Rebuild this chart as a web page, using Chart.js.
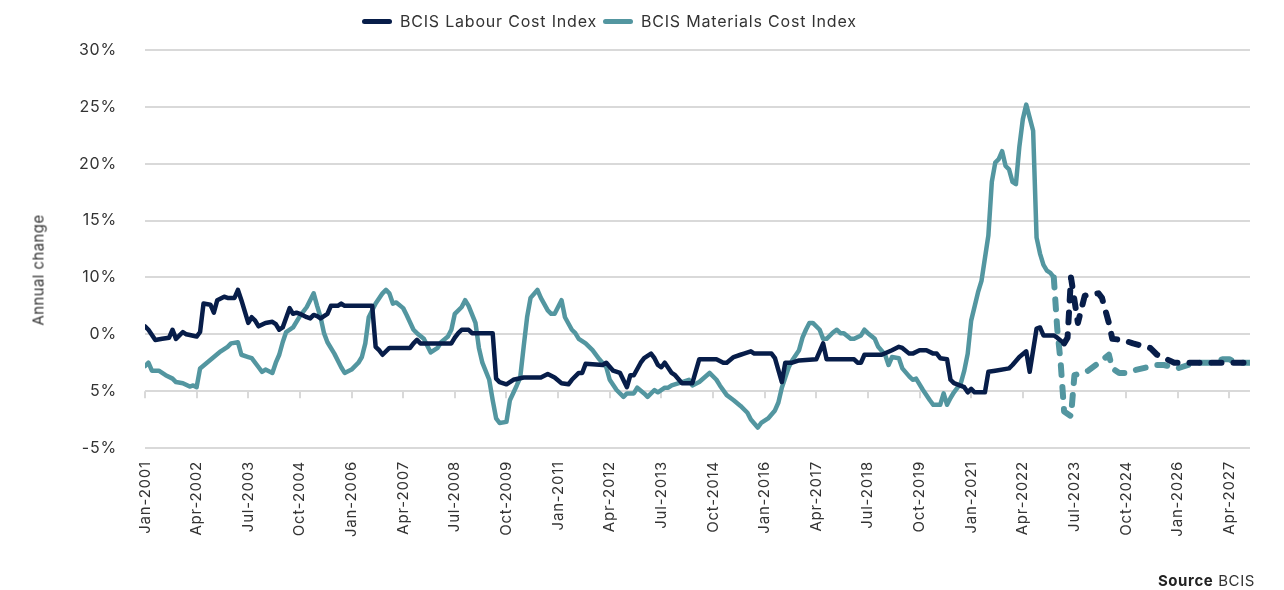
<!DOCTYPE html>
<html>
<head>
<meta charset="utf-8">
<script src="https://cdn.jsdelivr.net/npm/chart.js@4.4.1/dist/chart.umd.min.js"></script>
<style>
  html, body { margin: 0; padding: 0; background: #fff; }
  #wrap { position: relative; width: 1284px; height: 590px; font-family: Inter, "Open Sans", sans-serif; color: #333; }
  #chart { position: absolute; left: 0; top: 0; }
  .legend { position: absolute; left: 0; top: 0; width: 1284px; height: 40px; font-size: 16px; letter-spacing: 0.8px; white-space: nowrap; }
  .legend .item { position: absolute; top: 11px; display: flex; align-items: center; }
  .legend .mark { display: inline-block; width: 30px; height: 5px; border-radius: 3px; margin-right: 8px; }
  .ytitle { position: absolute; left: 38px; top: 270px; transform: translate(-50%, -50%) rotate(-90deg); font-size: 15px; letter-spacing: 0.4px; white-space: nowrap; }
  .source { position: absolute; right: 29px; top: 571px; font-size: 15px; letter-spacing: 0.6px; }
  .source b { font-weight: 700; color: #222; }
</style>
</head>
<body>
<div id="wrap">
  <canvas id="chart" width="1284" height="590"></canvas>
  <div class="legend" id="legend"></div>
  <div class="ytitle">Annual change</div>
  <div class="source"><b>Source</b> BCIS</div>
</div>
<script>
// x values are months counted from Jan-2001 (0 = Jan-2001)
const startYear = 2001;
const lastMonth = 321;
const labelStep = 15;
const monthNames = ['Jan','Feb','Mar','Apr','May','Jun','Jul','Aug','Sep','Oct','Nov','Dec'];

// y axis: tick values and the text printed beside each one
const yTickValues = [-5, 0, 5, 10, 15, 20, 25, 30];
const yTickLabels = ['-5%', '5%', '0%', '10%', '15%', '20%', '25%', '30%'];

const seriesNames = ['BCIS Labour Cost Index', 'BCIS Materials Cost Index'];
const seriesColors = ['#071d49', '#5396a0'];
const legendLeft = [362, 603];

// forecast (dashed) begins at these months
const labourForecastFrom = 267;
const materialsForecastFrom = 264;

const labour = [
  [0,5.7],[1,5.4],[3,4.5],[5,4.6],[7,4.7],[8,5.4],[9,4.6],[11,5.2],[12,5.0],[15,4.8],
  [16,5.2],[17,7.7],[19,7.6],[20,6.9],[21,8.0],[23,8.3],[24,8.2],[26,8.2],[27,8.9],[28,8.0],
  [30,6.0],[31,6.5],[32,6.2],[33,5.7],[35,6.0],[37,6.1],[38,5.9],[39,5.4],[40,5.6],[42,7.3],
  [43,6.8],[44,6.9],[45,6.8],[47,6.5],[48,6.4],[49,6.7],[50,6.6],[51,6.4],[53,6.8],[54,7.5],
  [56,7.5],[57,7.7],[58,7.5],[66,7.5],[67,3.9],[68,3.6],[69,3.2],[71,3.8],[77,3.8],[78,4.2],
  [79,4.5],[80,4.2],[89,4.2],[90,4.7],[91,5.1],[92,5.4],[94,5.4],[95,5.1],[101,5.1],[102,1.1],
  [103,0.8],[105,0.6],[107,1.0],[110,1.2],[115,1.2],[117,1.5],[119,1.2],[121,0.7],[123,0.6],[124,1.0],
  [126,1.6],[127,1.6],[128,2.4],[133,2.3],[134,2.5],[136,1.8],[138,1.6],[140,0.35],[141,1.4],[142,1.4],
  [144,2.5],[145,2.9],[147,3.3],[148,2.9],[149,2.3],[150,2.1],[151,2.5],[153,1.6],[154,1.4],[156,0.7],
  [159,0.7],[161,2.8],[166,2.8],[168,2.5],[169,2.5],[171,3.0],[173,3.2],[174,3.3],[176,3.5],[177,3.3],
  [182,3.3],[183,2.9],[185,0.8],[186,2.5],[188,2.5],[190,2.7],[195,2.8],[197,4.2],[198,2.8],[206,2.8],
  [207,2.5],[208,2.5],[209,3.2],[214,3.2],[217,3.6],[219,3.9],[220,3.8],[222,3.3],[223,3.3],[225,3.6],
  [227,3.6],[229,3.3],[230,3.3],[231,2.9],[233,2.8],[234,1.0],[235,0.7],[238,0.35],[239,-0.1],[240,0.2],
  [241,-0.1],[244,-0.1],[245,1.7],[247,1.8],[251,2.0],[252,2.3],[254,3.0],[256,3.5],[257,1.7],[259,5.5],
  [260,5.6],[261,4.9],[264,4.9],[265,4.7],[267,4.2],
  // forecast
  [268,4.7],[269,10.0],[271,6.0],[273,8.4],[277,8.6],[278,8.2],[280,6.0],[281,4.6],[284,4.5],[287,4.2],
  [292,3.8],[294,3.2],[299,2.5],[321,2.5]
];

const materials = [
  [0,2.2],[1,2.5],[2,1.8],[4,1.8],[6,1.4],[8,1.1],[9,0.8],[11,0.7],[13,0.4],[14,0.5],
  [15,0.35],[16,2.0],[18,2.5],[20,3.0],[22,3.5],[24,3.9],[25,4.2],[27,4.3],[28,3.2],[30,3.0],
  [31,2.9],[33,2.1],[34,1.7],[35,1.9],[37,1.6],[38,2.5],[39,3.2],[40,4.3],[41,5.2],[43,5.6],
  [45,6.6],[47,7.4],[49,8.6],[50,7.5],[51,6.5],[52,5.1],[53,4.3],[55,3.3],[57,2.1],[58,1.6],
  [60,1.9],[62,2.5],[63,3.0],[64,4.2],[65,6.5],[67,7.7],[69,8.6],[70,8.9],[71,8.6],[72,7.7],
  [73,7.8],[75,7.3],[76,6.7],[78,5.4],[79,5.1],[81,4.6],[83,3.4],[85,3.8],[86,4.3],[88,4.8],
  [89,5.4],[90,6.8],[92,7.4],[93,8.0],[94,7.5],[96,6.0],[97,3.8],[98,2.5],[100,1.0],[101,-0.8],
  [102,-2.4],[103,-2.8],[105,-2.7],[106,-0.8],[108,0.5],[109,1.2],[110,3.9],[111,6.5],[112,8.2],[114,8.9],
  [115,8.2],[117,7.1],[118,6.8],[119,6.8],[121,8.0],[122,6.5],[124,5.4],[125,5.1],[126,4.6],[128,4.2],
  [130,3.6],[132,2.8],[134,2.1],[135,1.0],[137,0.1],[139,-0.5],[140,-0.2],[142,-0.2],[143,0.3],[145,-0.2],
  [146,-0.5],[148,0.1],[149,-0.1],[151,0.3],[152,0.3],[153,0.5],[156,0.8],[158,1.0],[159,0.5],[161,0.8],
  [164,1.6],[166,1.0],[167,0.5],[169,-0.35],[171,-0.8],[173,-1.3],[175,-1.9],[176,-2.5],[178,-3.2],[179,-2.8],
  [181,-2.4],[183,-1.7],[184,-1.0],[185,0.3],[186,1.2],[187,2.1],[188,2.7],[190,3.6],[191,4.7],[192,5.4],
  [193,6.0],[194,6.0],[196,5.4],[197,4.6],[198,4.6],[200,5.2],[201,5.4],[202,5.1],[203,5.1],[205,4.6],
  [206,4.6],[208,4.9],[209,5.4],[210,5.1],[212,4.6],[213,3.9],[215,3.2],[216,2.3],[217,3.0],[219,2.9],
  [220,2.0],[222,1.3],[223,1.0],[224,1.1],[226,0.1],[228,-0.8],[229,-1.2],[231,-1.2],[232,-0.2],[233,-1.2],
  [234,-0.6],[235,-0.1],[237,0.7],[238,1.8],[239,3.3],[240,6.2],[242,8.7],[243,9.7],[245,13.7],[246,18.4],
  [247,20.1],[248,20.4],[249,21.1],[250,19.8],[251,19.5],[252,18.4],[253,18.2],[254,21.5],[255,23.9],[256,25.2],
  [258,22.9],[259,13.5],[260,12.1],[261,11.1],[262,10.6],[263,10.4],[264,10.0],
  // forecast
  [265,5.5],[266,2.5],[267,-1.8],[269,-2.2],[270,1.4],[274,1.8],[278,2.7],[280,3.2],[281,2.0],[283,1.6],
  [285,1.6],[287,1.8],[291,2.1],[294,2.3],[296,2.3],[300,2.0],[303,2.3],[305,2.5],[310,2.5],[313,2.8],
  [315,2.8],[317,2.5],[321,2.5]
];

const monthLabel = (m) => monthNames[m % 12] + '-' + (startYear + Math.floor(m / 12));
const toPoints = (arr) => arr.map(([x, y]) => ({ x, y }));

const inForecast = (from) => (ctx) => ctx.p0.parsed.x >= from;
const dashFrom = (from) => (ctx) => inForecast(from)(ctx) ? [10, 12] : undefined;
const widthFrom = (from) => (ctx) => inForecast(from)(ctx) ? 6 : undefined;

// legend built from the series
const legendEl = document.getElementById('legend');
seriesNames.forEach((name, i) => {
  const item = document.createElement('div');
  item.className = 'item';
  item.style.left = legendLeft[i] + 'px';
  item.innerHTML = '<span class="mark" style="background:' + seriesColors[i] + '"></span><span>' + name + '</span>';
  legendEl.appendChild(item);
});

// wider letter spacing to mimic the original typeface
const spacing = {
  id: 'spacing',
  beforeLayout(chart) { chart.ctx.letterSpacing = '0.8px'; },
  beforeDraw(chart) { chart.ctx.letterSpacing = '0.8px'; }
};

// small tick marks hanging below the zero line
const zeroTicks = {
  id: 'zeroTicks',
  beforeDatasetsDraw(chart) {
    const { ctx, scales: { x, y } } = chart;
    const y0 = y.getPixelForValue(0);
    ctx.save();
    ctx.strokeStyle = '#d9d9d9';
    ctx.lineWidth = 2;
    x.ticks.forEach((t) => {
      const px = Math.round(x.getPixelForValue(t.value));
      ctx.beginPath();
      ctx.moveTo(px, y0);
      ctx.lineTo(px, y0 + 7);
      ctx.stroke();
    });
    ctx.restore();
  }
};

Chart.defaults.font.family = 'Inter, "Open Sans", sans-serif';
Chart.defaults.color = '#333';

const makeSeries = (i, data, from) => ({
  label: seriesNames[i],
  data: toPoints(data),
  borderColor: seriesColors[i],
  backgroundColor: seriesColors[i],
  borderWidth: 4.5,
  pointRadius: 0,
  tension: 0,
  borderJoinStyle: 'round',
  borderCapStyle: 'round',
  segment: { borderDash: dashFrom(from), borderWidth: widthFrom(from) },
});

new Chart(document.getElementById('chart'), {
  type: 'line',
  data: {
    datasets: [
      makeSeries(0, labour, labourForecastFrom),
      makeSeries(1, materials, materialsForecastFrom),
    ]
  },
  options: {
    responsive: false,
    animation: false,
    layout: { padding: { left: 0, right: 34, top: 50, bottom: 0 } },
    plugins: { legend: { display: false }, tooltip: { enabled: false } },
    scales: {
      x: {
        type: 'linear',
        min: 0,
        max: lastMonth,
        afterBuildTicks(scale) {
          const t = [];
          for (let m = 0; m <= lastMonth; m += labelStep) t.push({ value: m });
          scale.ticks = t;
        },
        afterFit(scale) { scale.height = 142; },
        grid: { display: false, drawTicks: false },
        border: { display: false },
        ticks: {
          autoSkip: false,
          minRotation: 90,
          maxRotation: 90,
          padding: 13,
          font: { size: 15 },
          color: '#333',
          callback: (v) => monthLabel(v),
        }
      },
      y: {
        min: -5,
        max: 30,
        afterBuildTicks(scale) {
          scale.ticks = yTickValues.map((v) => ({ value: v }));
        },
        afterFit(scale) { scale.width = 145; },
        grid: { color: '#d9d9d9', lineWidth: 2, drawTicks: false },
        border: { display: false },
        ticks: {
          padding: 28,
          font: { size: 16 },
          color: '#333',
          callback: (v) => yTickLabels[yTickValues.indexOf(v)],
        }
      }
    }
  },
  plugins: [spacing, zeroTicks]
});
</script>
</body>
</html>
